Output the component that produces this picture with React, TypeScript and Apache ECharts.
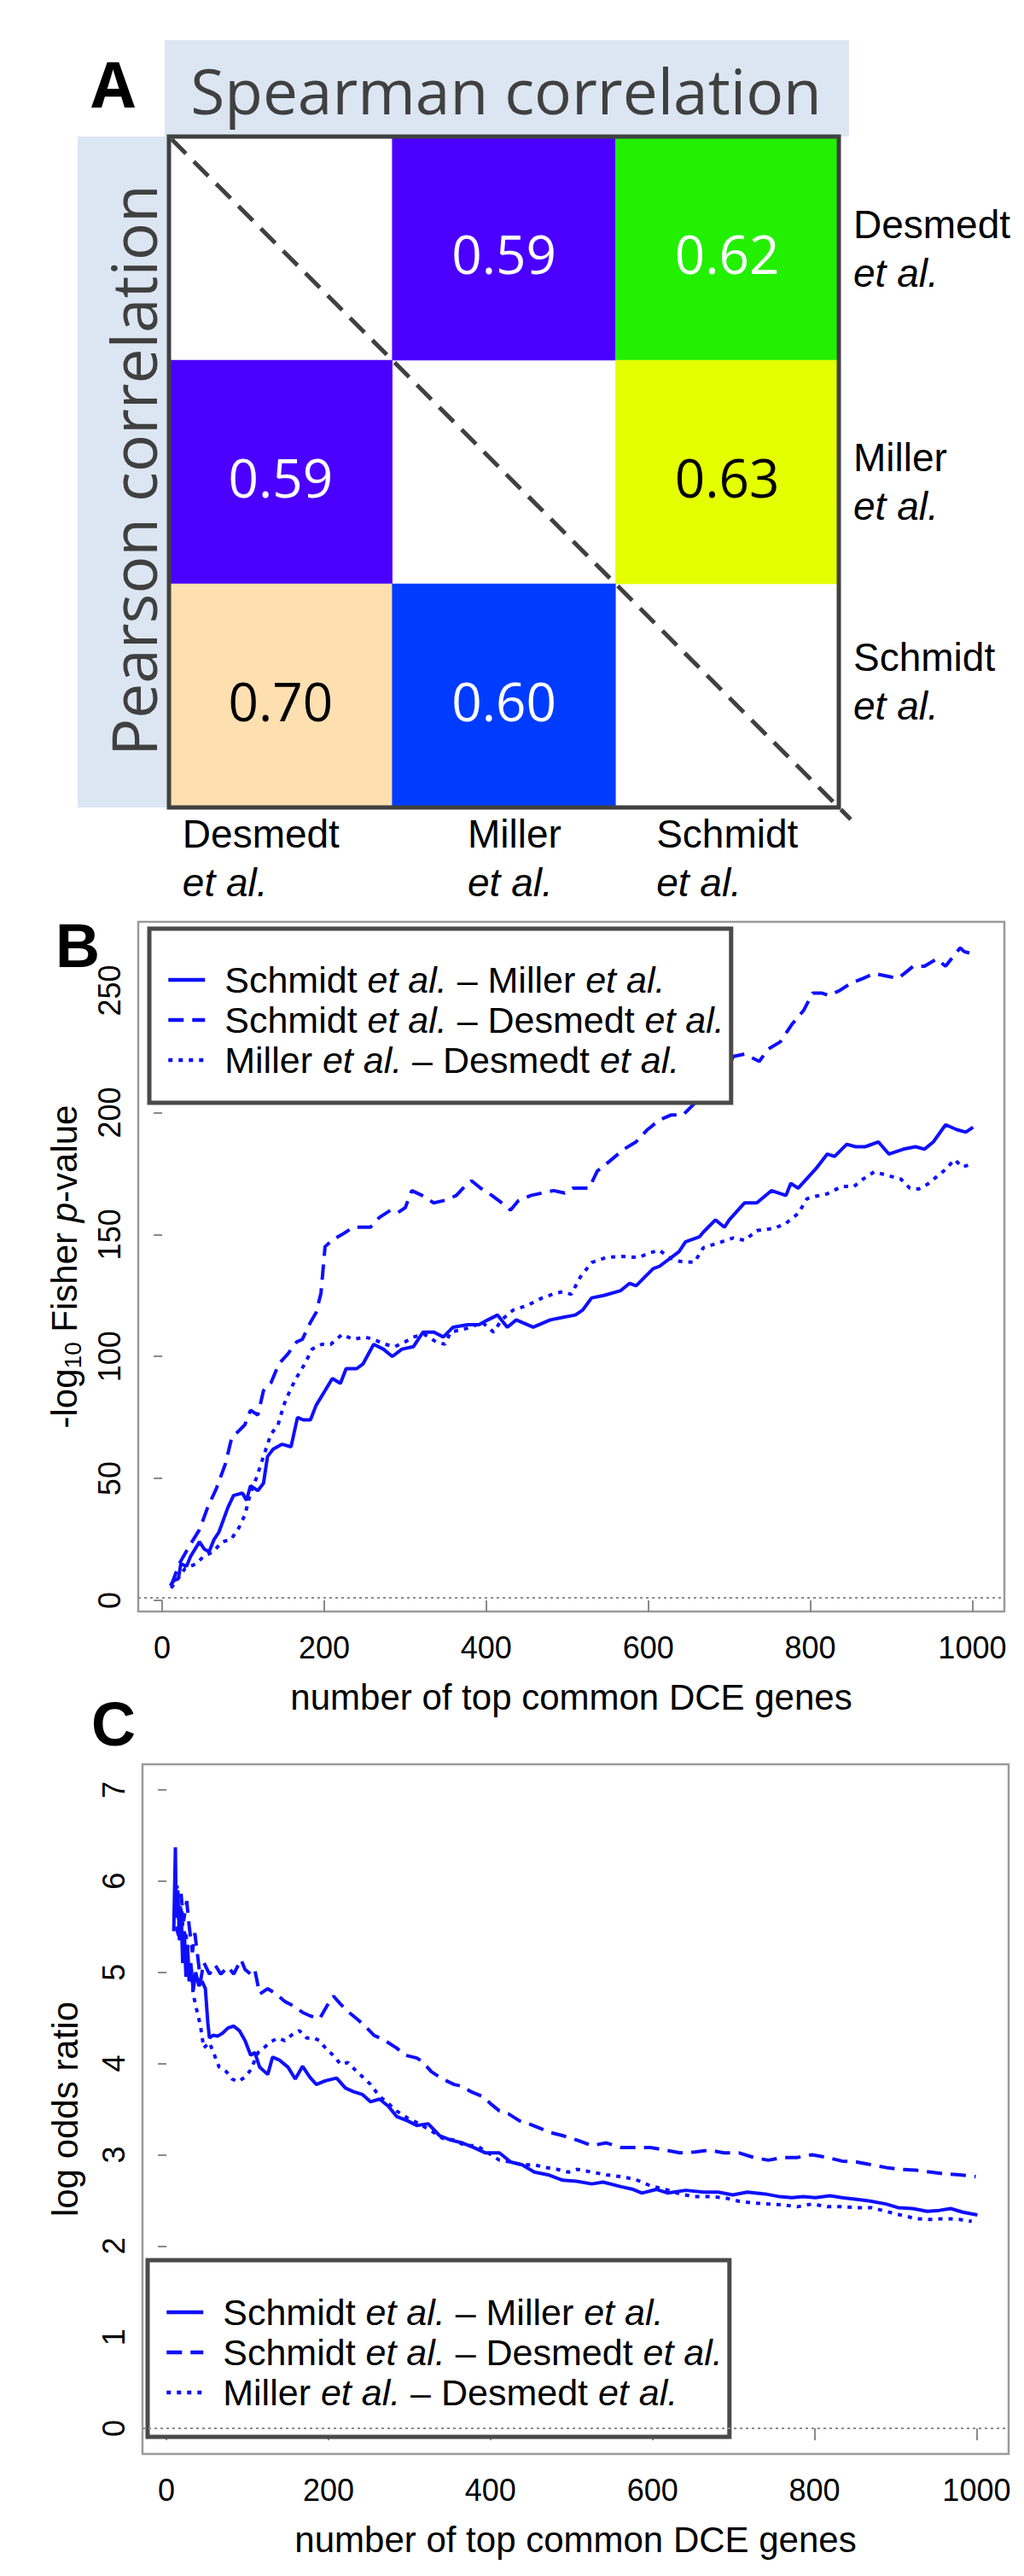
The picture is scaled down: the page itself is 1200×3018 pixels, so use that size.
import React, { useEffect, useRef } from 'react';
import * as echarts from 'echarts';

// ---------------- data ----------------
const STUDIES = ['Desmedt', 'Miller', 'Schmidt'];
// [column, row, value]
const SPEARMAN: [number, number, number][] = [[1, 0, 0.59], [2, 0, 0.62], [2, 1, 0.63]];
const PEARSON: [number, number, number][] = [[0, 1, 0.59], [0, 2, 0.70], [1, 2, 0.60]];

const PAIRS = ['Schmidt et al. – Miller et al.', 'Schmidt et al. – Desmedt et al.', 'Miller et al. – Desmedt et al.'];
const X_TICKS = [0, 200, 400, 600, 800, 1000];
const B_Y_TICKS = [0, 50, 100, 150, 200, 250];
const C_Y_TICKS = [0, 1, 2, 3, 4, 5, 6, 7];
const B_SIG = 1.3;
const C_NULL = 0;

const B_SM: [number, number][] = [[10,6],[14,8],[20,9],[23,15],[30,14],[35,18],[46,24],[52,21],[58,20],[64,25],[70,28],[81,38],[88,43],[99,44],[104,41],[109,47],[118,45],[125,48],[130,59],[137,62],[148,64],[159,63],[167,75],[174,74],[183,74],[190,80],[201,86],[210,91],[220,89],[227,95],[240,95],[248,97],[261,105],[273,103],[284,100],[296,103],[310,104],[322,110],[335,110],[347,108],[359,112],[377,113],[391,113],[402,115],[414,117],[426,112],[437,115],[458,112],[479,115],[494,116],[510,117],[519,119],[530,124],[545,125],[566,127],[577,130],[585,129],[606,136],[614,137],[638,143],[646,147],[663,149],[668,151],[683,156],[694,153],[700,156],[719,163],[734,163],[752,168],[770,166],[776,171],[785,169],[807,177],[821,183],[830,182],[845,187],[856,186],[868,186],[884,188],[897,183],[915,185],[930,186],[941,185],[952,188],[967,195],[981,193],[992,192],[1001,194]];
const B_SD: [number, number][] = [[11,6],[21,15],[33,22],[46,29],[56,38],[67,46],[78,56],[86,67],[93,69],[102,72],[109,78],[118,76],[125,86],[134,89],[144,97],[155,101],[166,106],[173,107],[183,114],[190,118],[196,126],[201,145],[211,148],[222,150],[236,153],[245,153],[257,153],[268,157],[282,160],[291,159],[300,161],[308,168],[321,166],[335,163],[349,164],[363,166],[377,171],[382,172],[393,169],[407,166],[419,163],[430,160],[440,164],[455,166],[469,167],[483,168],[497,167],[507,169],[527,169],[537,176],[552,180],[570,185],[585,188],[599,193],[614,197],[628,199],[643,199],[696,217],[705,223],[719,224],[737,221],[748,226],[763,229],[777,236],[792,242],[803,249],[814,249],[823,248],[836,250],[850,253],[865,255],[879,257],[894,256],[908,255],[916,257],[927,260],[941,260],[956,263],[967,260],[974,263],[985,267.5],[990,266],[1001,265]];
const B_MD: [number, number][] = [[11,5],[28,13],[42,15],[51,18],[63,20],[74,24],[85,25],[95,30],[102,35],[109,44],[116,50],[127,61],[134,68],[143,72],[150,80],[159,87],[167,92],[176,97],[185,103],[197,105],[208,105],[222,109],[236,107],[250,108],[261,107],[275,105],[287,104],[300,106],[310,108],[324,109],[338,106],[349,105],[356,110],[370,111],[381,112],[395,114],[409,110],[419,115],[433,119],[451,121],[469,124],[486,126],[494,126.5],[505,125.5],[516,132.5],[530,138.5],[548,140.6],[567,141],[588,140.6],[603,142.6],[614,143.6],[625,140.6],[639,139],[657,138.6],[668,144.6],[687,146.6],[705,148.6],[719,147.6],[734,151.6],[756,152.6],[770,154.6],[785,158.6],[796,164.7],[807,165.7],[821,166.7],[839,169.7],[854,169.7],[865,172.7],[879,175.7],[890,174.7],[901,173.7],[912,172.7],[923,169],[934,168.7],[945,170.7],[956,173.7],[967,176.7],[978,180.7],[988,177.7],[997,178.7]];

const C_SM: [number, number][] = [[9,5.45],[11,6.37],[12,5.6],[14,5.9],[16,5.35],[18,5.7],[20,5.1],[22,5.45],[24,4.95],[26,5.3],[28,4.9],[30,5.1],[33,4.8],[36,5.0],[40,4.85],[44,4.9],[48,4.82],[51,4.45],[53,4.28],[56,4.3],[58,4.31],[63,4.3],[69,4.33],[76,4.39],[83,4.41],[90,4.36],[97,4.25],[104,4.09],[109,4.12],[115,3.96],[120,3.92],[125,3.88],[131,4.07],[139,4.04],[150,3.96],[159,3.83],[168,3.97],[177,3.85],[185,3.77],[196,3.81],[210,3.84],[221,3.73],[231,3.69],[242,3.66],[252,3.58],[263,3.61],[274,3.53],[284,3.42],[298,3.37],[309,3.32],[323,3.34],[337,3.21],[351,3.16],[365,3.13],[379,3.08],[394,3.02],[411,3.02],[425,2.92],[439,2.89],[454,2.81],[471,2.78],[489,2.72],[506,2.71],[525,2.68],[539,2.7],[561,2.65],[576,2.62],[587,2.58],[605,2.62],[619,2.58],[641,2.61],[663,2.59],[681,2.59],[699,2.56],[717,2.59],[739,2.57],[757,2.54],[772,2.53],[786,2.54],[801,2.53],[819,2.55],[834,2.53],[852,2.51],[870,2.49],[888,2.46],[903,2.42],[921,2.41],[939,2.38],[954,2.39],[968,2.41],[983,2.37],[1001,2.34]];
const C_SD: [number, number][] = [[12,5.5],[15,5.4],[18,5.86],[21,5.56],[25,5.78],[28,5.51],[32,5.22],[35,5.43],[39,5.14],[42,4.9],[46,5.11],[53,4.98],[60,5.08],[67,4.98],[76,5.06],[83,4.98],[92,5.14],[97,5.03],[104,4.98],[109,5.03],[115,4.76],[125,4.82],[136,4.76],[146,4.68],[157,4.63],[168,4.56],[178,4.52],[189,4.49],[198,4.63],[206,4.74],[215,4.65],[224,4.57],[235,4.49],[245,4.41],[256,4.31],[270,4.25],[284,4.17],[295,4.09],[309,4.06],[316,4.02],[327,3.91],[341,3.83],[355,3.77],[365,3.75],[376,3.69],[390,3.64],[400,3.56],[411,3.48],[422,3.45],[436,3.37],[447,3.34],[461,3.29],[475,3.24],[489,3.21],[507,3.16],[525,3.1],[543,3.13],[561,3.08],[579,3.08],[597,3.08],[616,3.05],[634,3.02],[652,3.03],[670,3.05],[688,3.02],[707,3.02],[725,2.97],[743,2.94],[761,2.97],[779,2.97],[797,3.0],[816,2.97],[834,2.93],[852,2.92],[870,2.89],[888,2.86],[906,2.84],[925,2.83],[943,2.81],[961,2.79],[979,2.78],[999,2.76]];
const C_MD: [number, number][] = [[10,5.6],[13,5.95],[16,5.4],[19,5.7],[21,5.3],[24,5.45],[27,5.0],[30,5.1],[33,4.76],[37,4.6],[42,4.41],[46,4.17],[53,4.23],[58,4.12],[65,3.96],[74,3.91],[81,3.83],[88,3.8],[97,3.85],[104,3.93],[113,4.12],[120,4.17],[129,4.24],[138,4.28],[146,4.25],[157,4.33],[164,4.36],[173,4.28],[182,4.28],[189,4.25],[198,4.15],[206,4.09],[215,3.99],[224,4.01],[235,3.91],[245,3.83],[252,3.77],[263,3.64],[274,3.56],[284,3.48],[298,3.4],[312,3.34],[327,3.26],[341,3.18],[355,3.16],[369,3.1],[383,3.1],[397,3.02],[411,2.94],[425,2.92],[439,2.89],[454,2.89],[468,2.86],[482,2.84],[496,2.81],[507,2.84],[525,2.81],[543,2.78],[561,2.76],[579,2.73],[597,2.66],[616,2.62],[634,2.57],[652,2.54],[670,2.54],[688,2.53],[707,2.49],[725,2.47],[743,2.46],[761,2.45],[779,2.43],[797,2.46],[816,2.43],[834,2.43],[852,2.42],[870,2.42],[888,2.38],[906,2.34],[925,2.3],[943,2.29],[961,2.3],[979,2.29],[994,2.27]];

// ---------------- styles / layout ----------------
// colour scale of the correlation matrix (value -> fill, label colour)
const CELL_SCALE = [
  { value: 0.59, color: '#4b00ff', text: '#ffffff' },
  { value: 0.60, color: '#003cff', text: '#ffffff' },
  { value: 0.62, color: '#22f000', text: '#ffffff' },
  { value: 0.63, color: '#e4ff00', text: '#000000' },
  { value: 0.70, color: '#fddfb0', text: '#000000' },
];
const BLUE = '#0f0fff';
const LINE_TYPES: any[] = ['solid', [18, 10], [5, 7]];
const FONT = 'Liberation Sans, Arial, Helvetica, sans-serif';
const OPEN = 'Open Sans, sans-serif';

const GA = { left: 198, top: 160, width: 785, height: 786 };
const GB = { left: 162, top: 1080, width: 1015, height: 808 };
const GC = { left: 167, top: 2067, width: 1015, height: 808 };
const COL_LABEL_W = [230, 85, 166];
const ROW_LABEL_PAD = [[0, 0, 0, 0], [22, 0, 0, 0], [0, 0, 34, 0]];

const richPair = (name: string) => name.replace(/et al\./g, '{i|et al.}');
const textFor = (v: number) => (CELL_SCALE.find((s) => s.value === v) || { text: '#000' }).text;

function buildOption(): any {
  const cellData = [...SPEARMAN, ...PEARSON].map((c) => ({ value: c, label: { color: textFor(c[2]) } }));

  const colRich: any = {};
  COL_LABEL_W.forEach((w, i) => {
    colRich['n' + i] = { width: w, align: 'left', fontSize: 46, lineHeight: 57, fontFamily: FONT, color: '#000' };
    colRich['e' + i] = { width: w, align: 'left', fontSize: 46, lineHeight: 57, fontFamily: FONT, fontStyle: 'italic', color: '#000' };
  });

  const valueX = (gridIndex: number) => ({
    gridIndex,
    type: 'value',
    min: -29.6,
    max: 1039.6,
    axisLine: { show: false },
    splitLine: { show: false },
    axisTick: { show: true, length: 14, customValues: X_TICKS, lineStyle: { color: '#8a8a8a', width: 2 } },
    axisLabel: { customValues: X_TICKS, margin: 24, fontSize: 36, fontFamily: FONT, color: '#000', formatter: (v: number) => String(v) },
    name: 'number of top common DCE genes',
    nameLocation: 'middle',
    nameGap: 79,
    nameTextStyle: { fontSize: 42, fontFamily: FONT, color: '#000' },
  });

  const valueY = (gridIndex: number, min: number, max: number, ticks: number[], name: string, gap: number) => ({
    gridIndex,
    type: 'value',
    min,
    max,
    axisLine: { show: false },
    splitLine: { show: false },
    axisTick: { show: true, length: 10, customValues: ticks, lineStyle: { color: '#8a8a8a', width: 2 } },
    axisLabel: { customValues: ticks, rotate: 90, margin: 16, fontSize: 36, fontFamily: FONT, color: '#000', formatter: (v: number) => String(v) },
    name,
    nameLocation: 'middle',
    nameRotate: 90,
    nameGap: gap,
    nameTextStyle: {
      fontSize: 42,
      fontFamily: FONT,
      color: '#000',
      rich: {
        t: { fontSize: 42, lineHeight: 48, fontFamily: FONT, color: '#000' },
        s: { fontSize: 28, lineHeight: 28, verticalAlign: 'bottom', fontFamily: FONT, color: '#000' },
        i: { fontSize: 42, lineHeight: 48, fontStyle: 'italic', fontFamily: FONT, color: '#000' },
      },
    },
  });

  const legendFor = (left: number, top: number, padding: number[]) => ({
    show: true,
    orient: 'vertical',
    left,
    top,
    data: PAIRS,
    selectedMode: false,
    itemWidth: 43,
    itemHeight: 14,
    itemGap: 3,
    padding,
    backgroundColor: '#ffffff',
    borderColor: '#4a4a4a',
    borderWidth: 5,
    borderRadius: 0,
    lineStyle: { width: 4.5 },
    itemStyle: { opacity: 0 },
    formatter: richPair,
    textStyle: {
      fontFamily: FONT,
      fontSize: 43,
      lineHeight: 44,
      color: '#000',
      padding: [0, 0, 0, 18],
      rich: { i: { fontFamily: FONT, fontSize: 43, lineHeight: 44, fontStyle: 'italic', color: '#000' } },
    },
  });

  const lineSeries = (k: number, data: [number, number][], grid: number, mark?: number) => ({
    type: 'line',
    name: PAIRS[k],
    xAxisIndex: grid,
    yAxisIndex: grid,
    data,
    symbol: 'none',
    showSymbol: false,
    silent: true,
    clip: true,
    lineStyle: { color: BLUE, width: 4, type: LINE_TYPES[k], cap: 'butt' },
    itemStyle: { color: BLUE },
    emphasis: { disabled: true },
    ...(mark !== undefined
      ? {
          markLine: {
            silent: true,
            symbol: ['none', 'none'],
            label: { show: false },
            lineStyle: { color: '#8c8c8c', type: [3, 4], width: 2 },
            emphasis: { disabled: true },
            data: [{ yAxis: mark }],
          },
        }
      : {}),
  });

  return {
    animation: false,
    backgroundColor: '#ffffff',
    textStyle: { fontFamily: FONT },
    visualMap: {
      type: 'piecewise',
      show: false,
      seriesIndex: 0,
      dimension: 2,
      pieces: CELL_SCALE.map((s) => ({ value: s.value, color: s.color })),
    },
    grid: [
      { ...GA, show: true, backgroundColor: '#ffffff', borderWidth: 0, outerBoundsMode: 'none' },
      { ...GB, show: true, backgroundColor: 'transparent', borderColor: '#9a9a9a', borderWidth: 2.5, outerBoundsMode: 'none' },
      { ...GC, show: true, backgroundColor: 'transparent', borderColor: '#9a9a9a', borderWidth: 2.5, outerBoundsMode: 'none' },
    ],
    xAxis: [
      {
        gridIndex: 0,
        type: 'category',
        data: STUDIES,
        position: 'bottom',
        axisLine: { show: false },
        axisTick: { show: false },
        splitLine: { show: false },
        axisLabel: {
          interval: 0,
          margin: 2,
          formatter: (v: string, i: number) => `{n${i}|${v}}\n{e${i}|et al.}`,
          rich: colRich,
        },
      },
      valueX(1),
      valueX(2),
    ],
    yAxis: [
      {
        gridIndex: 0,
        type: 'category',
        data: STUDIES.map((s, i) => ({ value: s, textStyle: { padding: ROW_LABEL_PAD[i] } })),
        inverse: true,
        position: 'right',
        axisLine: { show: false },
        axisTick: { show: false },
        splitLine: { show: false },
        axisLabel: {
          interval: 0,
          margin: 17,
          align: 'left',
          formatter: (v: string) => `{n|${v}}\n{e|et al.}`,
          rich: {
            n: { fontSize: 46, lineHeight: 57, fontFamily: FONT, color: '#000', align: 'left' },
            e: { fontSize: 46, lineHeight: 57, fontFamily: FONT, fontStyle: 'italic', color: '#000', align: 'left' },
          },
        },
      },
      valueY(1, -4.55, 278.2, B_Y_TICKS, '{t|-log}{s|10}{t| Fisher }{i|p}{t|-value}', 63),
      valueY(2, -0.28, 7.28, C_Y_TICKS, 'log odds ratio', 70),
    ],
    legend: [legendFor(175, 1088, [38, 8, 28, 20]), legendFor(173, 2648, [39, 8, 30, 20])],
    series: [
      {
        type: 'heatmap',
        xAxisIndex: 0,
        yAxisIndex: 0,
        data: cellData,
        silent: true,
        itemStyle: { borderWidth: 0 },
        emphasis: { disabled: true },
        label: {
          show: true,
          fontSize: 62,
          fontFamily: OPEN,
          offset: [0, 6],
          formatter: (p: any) => Number(p.value[2]).toFixed(2),
        },
      },
      lineSeries(0, B_SM, 1, B_SIG),
      lineSeries(1, B_SD, 1),
      lineSeries(2, B_MD, 1),
      lineSeries(0, C_SM, 2, C_NULL),
      lineSeries(1, C_SD, 2),
      lineSeries(2, C_MD, 2),
    ],
    graphic: {
      elements: [
        { type: 'rect', z: -10, shape: { x: 193, y: 47, width: 802, height: GA.top - 47 }, style: { fill: '#dce6f2' }, silent: true },
        { type: 'rect', z: -10, shape: { x: 91, y: GA.top, width: GA.left - 91, height: GA.height }, style: { fill: '#dce6f2' }, silent: true },
        {
          type: 'text', x: 593, y: 105, silent: true,
          style: { text: 'Spearman correlation', fontSize: 73, fontFamily: OPEN, fill: '#404040', align: 'center', verticalAlign: 'middle' },
        },
        {
          type: 'text', x: 155, y: 551, rotation: Math.PI / 2, silent: true,
          style: { text: 'Pearson correlation', fontSize: 73, fontFamily: OPEN, fill: '#404040', align: 'center', verticalAlign: 'middle' },
        },
        {
          type: 'rect', z: 100, silent: true,
          shape: { x: GA.left, y: GA.top, width: GA.width, height: GA.height },
          style: { fill: 'none', stroke: '#404040', lineWidth: 5 },
        },
        {
          type: 'line', z: 101, silent: true,
          shape: { x1: GA.left + 3, y1: GA.top + 3, x2: GA.left + GA.width + 14, y2: GA.top + GA.height + 14 },
          style: { stroke: '#404040', lineWidth: 5, lineDash: [24, 13] },
        },
        { type: 'text', x: 107, y: 97, silent: true, style: { text: 'A', fontSize: 74, fontWeight: 'bold', fontFamily: OPEN, fill: '#000', align: 'left', verticalAlign: 'middle' } },
        { type: 'text', x: 65, y: 1108, silent: true, style: { text: 'B', fontSize: 72, fontWeight: 'bold', fontFamily: FONT, fill: '#000', align: 'left', verticalAlign: 'middle' } },
        { type: 'text', x: 107, y: 2020, silent: true, style: { text: 'C', fontSize: 72, fontWeight: 'bold', fontFamily: FONT, fill: '#000', align: 'left', verticalAlign: 'middle' } },
      ],
    },
  };
}

export default function App() {
  const ref = useRef<HTMLDivElement>(null);
  useEffect(() => {
    document.body.style.margin = '0';
    if (!ref.current) return;
    const chart = echarts.init(ref.current, null, { renderer: 'svg' });
    chart.setOption(buildOption());
    return () => chart.dispose();
  }, []);
  return <div ref={ref} style={{ width: 1200, height: 3018 }} />;
}
